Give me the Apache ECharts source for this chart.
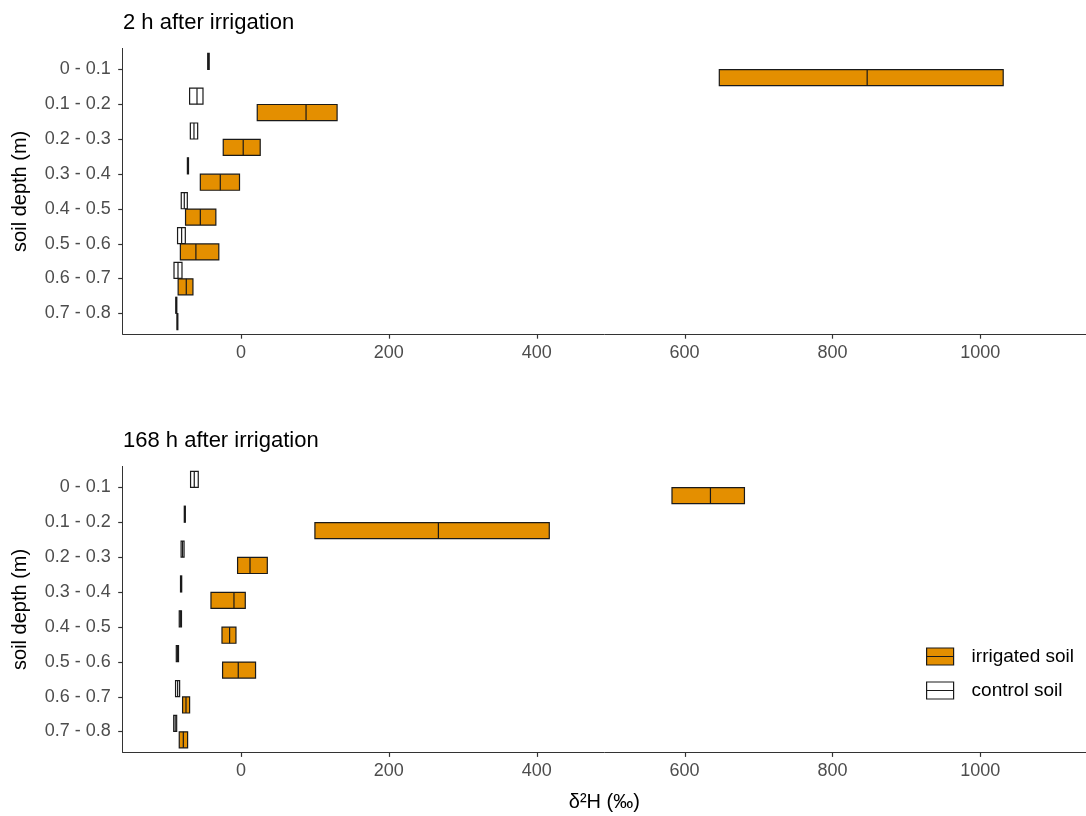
<!DOCTYPE html>
<html>
<head>
<meta charset="utf-8">
<script src="https://cdn.jsdelivr.net/npm/echarts@6/dist/echarts.min.js"></script>
<style>
html,body{margin:0;padding:0;background:#fff;}
#chart{width:1086px;height:816px;}
</style>
</head>
<body>
<div id="chart"></div>
<script>
// ---- data ----
const depths = ['0 - 0.1','0.1 - 0.2','0.2 - 0.3','0.3 - 0.4','0.4 - 0.5','0.5 - 0.6','0.6 - 0.7','0.7 - 0.8'];
const xTicks = [0, 200, 400, 600, 800, 1000];
const panelTitles = ['2 h after irrigation', '168 h after irrigation'];
const seriesNames = ['irrigated soil', 'control soil'];
// [lower hinge, median, upper hinge] per depth
const control2h = [[-45,-44,-43],[-69.5,-59.5,-51.4],[-68.5,-63.6,-58.6],[-72.5,-71.8,-71],[-80.8,-76.7,-72.6],[-85.8,-80.3,-75.3],[-90.6,-85.2,-79.8],[-88.2,-87.5,-86.8]];
const irrigated2h = [[647,847,1031],[22,88,130],[-24,3,26],[-55,-28,-2],[-75,-55,-34],[-82,-61,-30],[-85,-74,-65],[-86.6,-86,-85.4]];
const control168h = [[-68.2,-63.2,-57.8],[-76.7,-76,-75.3],[-81,-79,-77],[-81.8,-81,-80.2],[-83.5,-82,-80.5],[-87.5,-86,-84.5],[-88.5,-85.7,-83],[-91,-89,-87]];
const irrigated168h = [[583,635,681],[100,267,417],[-4.6,12.2,35.6],[-40.6,-9.5,5.8],[-25.7,-15.4,-6.8],[-24.9,-3.7,19.7],[-79,-74.4,-69.5],[-83.5,-78,-72.2]];

const X_MIN = -160, X_MAX = 1143, Y_MIN = -0.6, Y_MAX = 7.6;
const ORANGE = '#E48F00';
const EDGE = '#1a1a1a';
const AXIS = '#333333';
const FONT = 'Liberation Sans, Arial, sans-serif';

function toRows(arr){ return arr.map((d,i)=>[i, d[0], d[1], d[2]]); }

function makeRender(lo, hi, fill){
  return function(params, api){
    const yi = api.value(0);
    const a = api.coord([api.value(1), yi + lo]);
    const b = api.coord([api.value(3), yi + hi]);
    const m1 = api.coord([api.value(2), yi + lo]);
    const m2 = api.coord([api.value(2), yi + hi]);
    const x = Math.min(a[0], b[0]), y = Math.min(a[1], b[1]);
    return {
      type: 'group',
      children: [
        {type:'rect', shape:{x:x, y:y, width:Math.abs(b[0]-a[0]), height:Math.abs(b[1]-a[1])},
         style:{fill:fill, stroke:EDGE, lineWidth:1.2}},
        {type:'line', shape:{x1:m1[0], y1:m1[1], x2:m2[0], y2:m2[1]},
         style:{stroke:EDGE, lineWidth:1.2}}
      ]
    };
  };
}

const grids = [
  {left:122.7, top:48.4, width:963.3, height:285.8},
  {left:122.7, top:466.4, width:963.3, height:286}
];

function xAxisFor(i){
  return {
    type:'value', gridIndex:i, min:X_MIN, max:X_MAX,
    splitLine:{show:false},
    axisLine:{show:true, onZero:false, lineStyle:{color:AXIS, width:1}},
    axisTick:{show:false},
    axisLabel:{customValues:xTicks, color:'#4D4D4D', fontSize:18, fontFamily:FONT, margin:10,
      formatter:function(v){ return String(v); }},
    name: i === 1 ? 'δ²H (‰)' : '',
    nameLocation:'middle', nameGap:40,
    nameTextStyle:{color:'#000', fontSize:20, fontFamily:FONT}
  };
}
function yAxisFor(i){
  const idx = depths.map((d,k)=>k);
  return {
    type:'value', gridIndex:i, min:Y_MIN, max:Y_MAX, inverse:true,
    splitLine:{show:false},
    axisLine:{show:true, onZero:false, lineStyle:{color:AXIS, width:1}},
    axisTick:{show:false},
    axisLabel:{customValues:idx, color:'#4D4D4D', fontSize:18, fontFamily:FONT, margin:12,
      formatter:function(v){ return depths[Math.round(v)]; }},
    name:'soil depth (m)', nameLocation:'middle', nameGap:92, nameRotate:90,
    nameTextStyle:{color:'#000', fontSize:20, fontFamily:FONT}
  };
}

const series = [];
[[control2h, irrigated2h],[control168h, irrigated168h]].forEach(function(pair, g){
  series.push({
    type:'custom', name:seriesNames[1], xAxisIndex:g, yAxisIndex:g,
    renderItem: makeRender(-0.46, 0, '#ffffff'),
    data: toRows(pair[0]), encode:{x:[1,2,3], y:0},
    itemStyle:{color:'#ffffff'}, silent:true
  });
  series.push({
    type:'custom', name:seriesNames[0], xAxisIndex:g, yAxisIndex:g,
    renderItem: makeRender(0.01, 0.47, ORANGE),
    data: toRows(pair[1]), encode:{x:[1,2,3], y:0},
    itemStyle:{color:ORANGE}, silent:true
  });
});

const chart = echarts.init(document.getElementById('chart'), null, {renderer:'canvas'});
chart.setOption({
  animation:false,
  backgroundColor:'#ffffff',
  title:[
    {text:panelTitles[0], left:123, top:12, padding:0, textStyle:{fontSize:22, fontWeight:'normal', color:'#000', fontFamily:FONT}},
    {text:panelTitles[1], left:123, top:430, padding:0, textStyle:{fontSize:22, fontWeight:'normal', color:'#000', fontFamily:FONT}}
  ],
  grid: grids,
  xAxis:[xAxisFor(0), xAxisFor(1)],
  yAxis:[yAxisFor(0), yAxisFor(1)],
  legend:{
    orient:'vertical', left:926, top:647, padding:0, itemGap:15,
    itemWidth:27, itemHeight:17,
    icon:'path://M0,0H27V17H0ZM0,8.5H27',
    textStyle:{fontSize:19, color:'#000', fontFamily:FONT, padding:[0,0,0,13]},
    data:[
      {name:seriesNames[0], itemStyle:{color:ORANGE, borderColor:EDGE, borderWidth:1.2}},
      {name:seriesNames[1], itemStyle:{color:'#ffffff', borderColor:EDGE, borderWidth:1.2}}
    ],
    selectedMode:false
  },
  series: series
});

// axis tick marks, positioned through the axes' own scales
try {
  const tickEls = [];
  [0, 1].forEach(function(g){
    xTicks.forEach(function(v){
      const p = chart.convertToPixel({xAxisIndex:g, yAxisIndex:g}, [v, Y_MAX]);
      const x = Math.round(p[0]) + 0.5;
      tickEls.push({type:'line', silent:true, z:10,
        shape:{x1:x, y1:p[1], x2:x, y2:p[1] + 4.5},
        style:{stroke:AXIS, lineWidth:1.2}});
    });
    depths.forEach(function(d, k){
      const p = chart.convertToPixel({xAxisIndex:g, yAxisIndex:g}, [X_MIN, k]);
      const y = Math.round(p[1]) + 0.5;
      tickEls.push({type:'line', silent:true, z:10,
        shape:{x1:p[0], y1:y, x2:p[0] - 4.5, y2:y},
        style:{stroke:AXIS, lineWidth:1.2}});
    });
  });
  chart.setOption({graphic: tickEls});
} catch (e) { console.error(e); }
</script>
</body>
</html>
